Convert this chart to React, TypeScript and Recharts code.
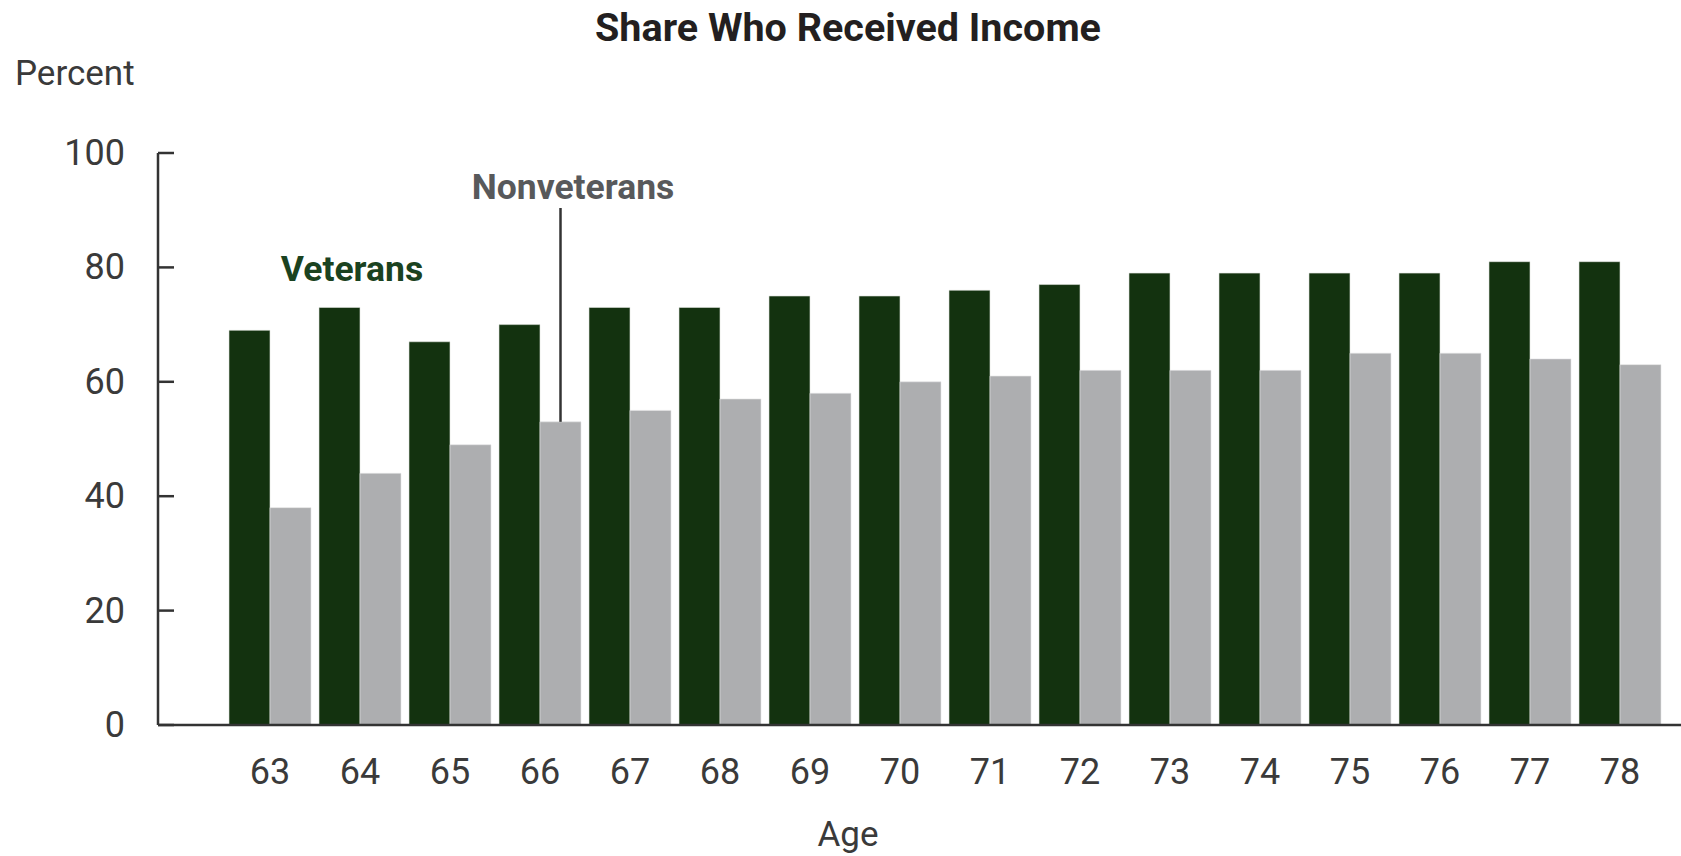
import React from 'react';
import { BarChart, Bar, XAxis, YAxis } from 'recharts';

const ages = ['63', '64', '65', '66', '67', '68', '69', '70', '71', '72', '73', '74', '75', '76', '77', '78'];
const veterans = [69, 73, 67, 70, 73, 73, 75, 75, 76, 77, 79, 79, 79, 79, 81, 81];
const nonveterans = [38, 44, 49, 53, 55, 57, 58, 60, 61, 62, 62, 62, 65, 65, 64, 63];
const yTicks = [0, 20, 40, 60, 80, 100];

const data = ages.map((age, i) => ({ age, veterans: veterans[i], nonveterans: nonveterans[i] }));

const W = 1681;
const H = 856;
const PLOT_LEFT = 158;
const PLOT_TOP = 153;
const PLOT_BOTTOM = 725;
const PAD_L = 67;
const PAD_R = 16;
const Y_AXIS_W = 60;
const X_AXIS_H = 60;
const CAT_GAP = 4;

const FONT = 'Roboto, "Noto Sans", sans-serif';
const TEXT = '#3a3a3a';
const VET = '#13320f';
const NONVET = '#adaeb0';

const YTick = (props: any) => {
  const { x, y, payload } = props;
  return (
    <g>
      <line x1={x} x2={x + 16} y1={y} y2={y} stroke="#333" strokeWidth={2.5} />
      <text x={x - 33} y={y} textAnchor="end" dominantBaseline="central" fontFamily={FONT} fontSize={36} fill={TEXT}>
        {payload.value}
      </text>
    </g>
  );
};

const XTick = (props: any) => {
  const { x, y, payload } = props;
  return (
    <text x={x} y={y + 47} textAnchor="middle" dominantBaseline="central" fontFamily={FONT} fontSize={36} fill={TEXT}>
      {payload.value}
    </text>
  );
};

export default function App() {
  const band = (W - PLOT_LEFT - PAD_L - PAD_R) / ages.length;
  const barW = (band - 2 * CAT_GAP) / 2;
  const yScale = (v: number) => PLOT_BOTTOM - (v / 100) * (PLOT_BOTTOM - PLOT_TOP);
  const idx66 = ages.indexOf('66');
  const leaderX = PLOT_LEFT + PAD_L + band * (idx66 + 0.5) + barW / 2;
  const leaderBottom = yScale(nonveterans[idx66]);

  return (
    <div style={{ position: 'absolute', left: 0, top: 0, width: W, height: H, background: '#fff' }}>
      <BarChart
        width={W}
        height={H}
        data={data}
        margin={{ top: PLOT_TOP, right: 0, bottom: H - PLOT_BOTTOM - X_AXIS_H, left: PLOT_LEFT - Y_AXIS_W }}
        barCategoryGap={CAT_GAP}
        barGap={0}
      >
        <XAxis
          dataKey="age"
          type="category"
          height={X_AXIS_H}
          padding={{ left: PAD_L, right: PAD_R }}
          axisLine={{ stroke: '#333', strokeWidth: 2.5 }}
          tickLine={false}
          tickSize={0}
          tickMargin={0}
          interval={0}
          tick={<XTick />}
        />
        <YAxis
          width={Y_AXIS_W}
          domain={[0, 100]}
          ticks={yTicks}
          interval={0}
          axisLine={{ stroke: '#333', strokeWidth: 2.5 }}
          tickLine={false}
          tickSize={0}
          tickMargin={0}
          tick={<YTick />}
        />
        <Bar dataKey="veterans" fill={VET} stroke="#dfe3dd" strokeWidth={0.6} isAnimationActive={false} />
        <Bar dataKey="nonveterans" fill={NONVET} stroke="#e4e4e6" strokeWidth={0.6} isAnimationActive={false} />
      </BarChart>
      <svg width={W} height={H} style={{ position: 'absolute', left: 0, top: 0, pointerEvents: 'none' }}>
        <text x={848} y={27} textAnchor="middle" dominantBaseline="central" fontFamily={FONT} fontWeight={700} fontSize={39.5} fill="#231f20">
          Share Who Received Income
        </text>
        <text x={15} y={73} textAnchor="start" dominantBaseline="central" fontFamily={FONT} fontSize={35} fill={TEXT}>
          Percent
        </text>
        <text x={848} y={834} textAnchor="middle" dominantBaseline="central" fontFamily={FONT} fontSize={35} fill={TEXT}>
          Age
        </text>
        <text x={352} y={269} textAnchor="middle" dominantBaseline="central" fontFamily={FONT} fontWeight={700} fontSize={35.5} fill="#1a4220">
          Veterans
        </text>
        <text x={573} y={187} textAnchor="middle" dominantBaseline="central" fontFamily={FONT} fontWeight={700} fontSize={35.5} fill="#58595b">
          Nonveterans
        </text>
        <line x1={leaderX} x2={leaderX} y1={208} y2={leaderBottom} stroke="#333" strokeWidth={2.5} />
      </svg>
    </div>
  );
}
